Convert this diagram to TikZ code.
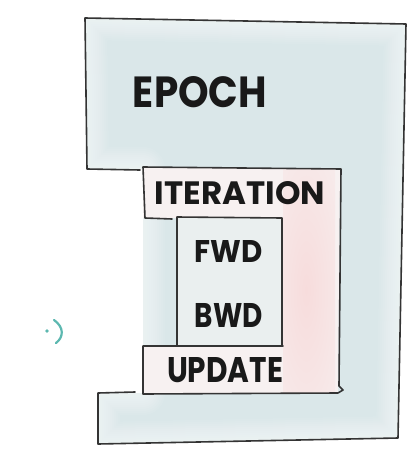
\documentclass[tikz,border=0pt]{standalone}
\usepackage{fontspec}
\setmainfont{Poppins}
\usepackage{graphicx}
\definecolor{ink}{RGB}{52,52,52}
\definecolor{epochfill}{RGB}{218,231,233}
\definecolor{iterfill}{RGB}{247,241,241}
\definecolor{pinkglow}{RGB}{247,220,220}
\definecolor{stepfill}{RGB}{234,239,239}
\definecolor{markteal}{RGB}{92,184,176}
\tikzset{
  outline/.style={draw=ink, line width=1.6pt, line join=round, line cap=round},
  label/.style={inner sep=0pt, text=black!90},
}
% fixed-size lettering: width and cap height in picture units
\newcommand{\sizedword}[3]{\resizebox{#1pt}{#2pt}{\bfseries #3}}
\begin{document}
\begin{tikzpicture}[x=1pt, y=-1pt]
\useasboundingbox (0,0) rectangle (416,455);
\fill[white] (0,0) rectangle (416,455);

% epoch area (the whole outer C-shape), fading lighter towards its edges
\def\epochpath{(85,18) -- (406,24) -- (398,438) -- (98,444) -- (98,393)
  -- (143,393) -- (143,169) -- (87,169) -- cycle}
\fill[epochfill] \epochpath;
\begin{scope}
  \clip \epochpath;
  \foreach \w in {44,40,...,4}
    \draw[white, opacity=0.07, line width=\w pt, line join=round] \epochpath;
\end{scope}

% iteration area with its pale pink band
\def\iterpath{(143,167) -- (340,169) -- (338,393) -- (143,394) -- (143,346)
  -- (177,346) -- (177,218) -- (143,218) -- cycle}
\fill[iterfill] \iterpath;
\begin{scope}
  \clip (283,169) rectangle (335,393);
  \shade[inner color=pinkglow, outer color=iterfill] (306,290) ellipse (60 and 230);
\end{scope}

% forward / backward step box
\fill[stepfill] (177,217) rectangle (282,346);

% outlines
\draw[outline] (140,170) -- (87,169) -- (85,18) -- (406,24) -- (398,438)
  -- (98,444) -- (98,393) -- (135,392);
\draw[outline] (172,219) -- (145,218) -- (143,167) -- (341,169) -- (339,386)
  -- (343,390) -- (338,393) -- (143,394) -- (143,346) -- (283,346);
\draw[outline] (177,346) -- (177,217) -- (282,218) -- (282,346);

% labels
\node[label] (epoch) at (200,92.5) {\sizedword{134}{31}{EPOCH}};
\node[label] (iteration) at (240,193.5) {\sizedword{170}{23}{ITERATION}};
\node[label] (fwd) at (229,251) {\sizedword{68}{22}{FWD}};
\node[label] (bwd) at (229,315) {\sizedword{68}{24}{BWD}};
\node[label] (update) at (225,370.5) {\sizedword{116}{25}{UPDATE}};

% small teal mark at the left
\fill[markteal] (47,331) circle (1.8);
\draw[markteal, line width=2.2pt, line cap=round]
  (54,320) .. controls (64,327) and (64,337) .. (56,343);
\end{tikzpicture}
\end{document}
